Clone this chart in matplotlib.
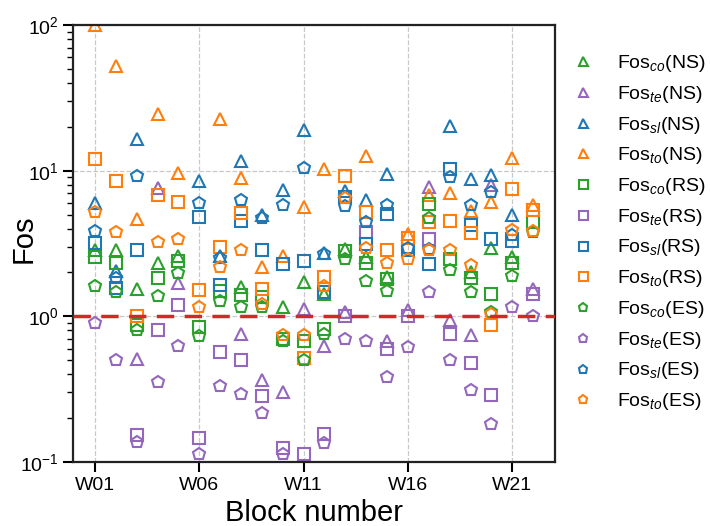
import numpy as np
import matplotlib
matplotlib.use("Agg")
import matplotlib.pyplot as plt

plt.rcParams['font.family'] = ['Liberation Sans', 'DejaVu Sans']
plt.rcParams['mathtext.fontset'] = 'custom'
plt.rcParams['mathtext.rm'] = 'Liberation Sans'
plt.rcParams['mathtext.it'] = 'Liberation Sans:italic'
plt.rcParams['mathtext.bf'] = 'Liberation Sans:bold'

nan = np.nan
blocks = ["W%02d" % i for i in range(1, 23)]
tick_labels = ["W01", "W06", "W11", "W16", "W21"]

co_NS = [2.85, 2.85, 1.55, 2.33, 2.6, nan, nan, 1.59, nan, 1.15, 1.72, 1.42, 2.9, 2.54, 1.85, nan, nan, nan, 2.0, 2.93, 2.57, nan]
te_NS = [nan, nan, 0.51, 7.6, 1.68, nan, nan, 0.76, 0.366, 0.30, 1.13, 0.63, 1.07, nan, 0.68, 1.11, 7.7, 0.95, 0.75, 8.0, nan, 1.55]
sl_NS = [6.0, 2.05, 16.4, nan, nan, 8.5, 2.6, 11.6, 5.0, 7.4, 19.0, 2.7, 7.2, 6.3, 9.5, nan, nan, 20.4, 8.7, 9.4, 4.97, nan]
to_NS = [100, 52, 4.67, 24.6, 9.7, nan, 22.8, 8.9, 2.19, 2.59, 5.6, 10.3, nan, 12.6, nan, 3.7, 6.8, 7.0, 5.3, 6.05, 12.2, 5.8]

co_RS = [2.57, 2.33, 0.87, 1.82, 2.41, 0.85, 1.5, 1.40, 1.35, 0.70, 0.68, 0.82, 2.82, 2.31, 1.79, nan, 5.9, 2.46, 1.82, 1.43, 2.34, 4.43]
te_RS = [nan, nan, 0.153, 0.80, 1.19, 0.146, 0.567, 0.50, 0.285, 0.124, 0.114, 0.155, 1.0, 3.78, 0.60, 1.0, 3.4, 0.76, 0.48, 0.29, nan, 1.43]
sl_RS = [3.2, 1.57, 2.85, nan, nan, 4.77, 1.65, 4.5, 2.85, 2.28, 2.39, 1.47, 6.6, 3.14, 5.05, 2.85, 2.28, 10.2, 4.24, 3.4, 3.3, nan]
to_RS = [12.0, 8.5, 1.0, 6.8, 6.1, 1.51, 2.98, 5.1, 1.55, nan, 0.52, 1.85, 9.2, 5.2, 2.85, 3.43, 4.47, 4.5, 3.72, 0.87, 7.5, 5.38]

co_ES = [1.62, 1.47, 0.81, 1.38, 1.99, 0.73, 1.27, 1.15, 1.16, 0.68, 0.50, 0.76, 2.46, 1.74, 1.50, nan, 4.7, 2.08, 1.47, 1.07, 1.89, 3.8]
te_ES = [0.90, 0.50, 0.138, 0.352, 0.63, 0.114, 0.334, 0.293, 0.216, 0.113, nan, 0.136, 0.70, 0.68, 0.386, 0.615, 1.47, 0.50, 0.312, 0.182, 1.16, 1.0]
sl_ES = [3.86, 1.84, 9.2, nan, nan, 6.0, 2.5, 6.3, 4.7, 5.8, 10.5, 2.66, 5.7, 4.47, 5.8, 2.96, 2.9, 9.0, 5.8, 7.1, 3.6, nan]
to_ES = [5.2, 3.8, nan, 3.26, 3.38, 1.16, 2.19, 2.85, 1.21, 0.75, 0.74, 1.62, 6.5, 2.93, 2.31, 2.46, 2.85, 2.85, 2.25, 1.04, 3.92, 3.88]

green, purple, blue, orange = '#2ca02c', '#9467bd', '#1f77b4', '#ff7f0e'
series = [
    (co_NS, '^', green, r'Fos$_{co}$(NS)'),
    (te_NS, '^', purple, r'Fos$_{te}$(NS)'),
    (sl_NS, '^', blue, r'Fos$_{sl}$(NS)'),
    (to_NS, '^', orange, r'Fos$_{to}$(NS)'),
    (co_RS, 's', green, r'Fos$_{co}$(RS)'),
    (te_RS, 's', purple, r'Fos$_{te}$(RS)'),
    (sl_RS, 's', blue, r'Fos$_{sl}$(RS)'),
    (to_RS, 's', orange, r'Fos$_{to}$(RS)'),
    (co_ES, 'p', green, r'Fos$_{co}$(ES)'),
    (te_ES, 'p', purple, r'Fos$_{te}$(ES)'),
    (sl_ES, 'p', blue, r'Fos$_{sl}$(ES)'),
    (to_ES, 'p', orange, r'Fos$_{to}$(ES)'),
]

fig = plt.figure(figsize=(7.10, 5.26), dpi=100)
ax = fig.add_axes([0.1028, 0.1217, 0.679, 0.8308])
x = np.arange(1, len(blocks) + 1)

for vals, m, c, lab in series:
    ax.plot(x, vals, linestyle='none', marker=m, markersize=9,
            markerfacecolor='none', markeredgecolor=c, markeredgewidth=1.5,
            label=lab, clip_on=True)

ax.axhline(1.0, color='#d62728', linestyle=(0, (5, 3)), linewidth=2.5, zorder=3)

ax.set_yscale('log')
ax.set_ylim(0.1, 100)
ax.set_xlim(-0.05, 23.05)
tick_pos = [blocks.index(t) + 1 for t in tick_labels]
ax.set_xticks(tick_pos)
ax.set_xticklabels(tick_labels)
ax.grid(True, which='major', linestyle='--', color='#c8c8c8', linewidth=0.9)
ax.set_axisbelow(True)

for sp in ax.spines.values():
    sp.set_linewidth(1.6)
    sp.set_color('#222222')
ax.tick_params(axis='both', which='major', labelsize=14, length=7, width=1.5, direction='out')
ax.tick_params(axis='y', which='minor', length=4, width=1.0)
ax.set_xlabel('Block number', fontsize=21)
ax.set_ylabel('Fos', fontsize=21)
ax.yaxis.set_label_coords(-0.074, 0.51)

leg = ax.legend(loc='center left', bbox_to_anchor=(1.011, 0.525), frameon=False,
                fontsize=14, markerscale=0.72, labelspacing=0.5, handlelength=1.5,
                handletextpad=1.0, borderaxespad=0.0)

fig.savefig('out.png', dpi=100)
